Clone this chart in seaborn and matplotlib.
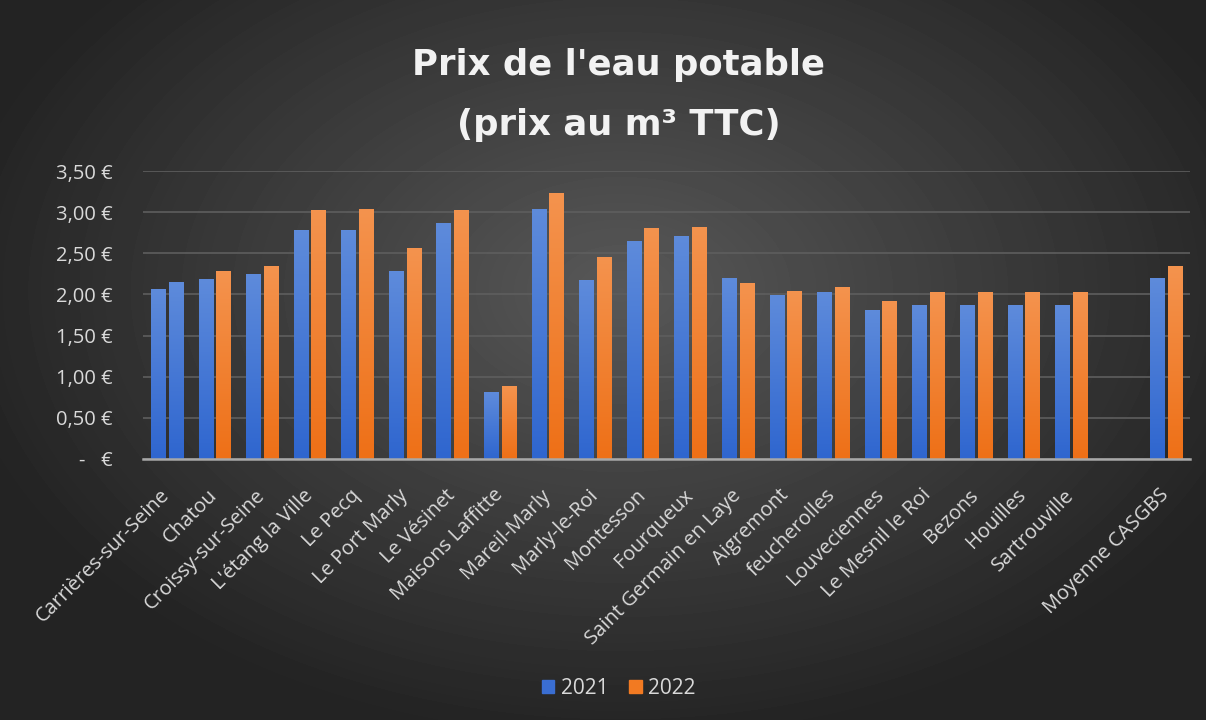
import numpy as np
import pandas as pd
import matplotlib
matplotlib.use("Agg")
import matplotlib.pyplot as plt
from matplotlib.ticker import FuncFormatter, MultipleLocator
from matplotlib.patches import Patch
from matplotlib.colors import LinearSegmentedColormap
import seaborn as sns

# Données (prix au m3 TTC)
communes = ["Carrières-sur-Seine", "Chatou", "Croissy-sur-Seine", "L'étang la Ville",
            "Le Pecq", "Le Port Marly", "Le Vésinet", "Maisons Laffitte", "Mareil-Marly",
            "Marly-le-Roi", "Montesson", "Fourqueux", "Saint Germain en Laye", "Aigremont",
            "feucherolles", "Louveciennes", "Le Mesnil le Roi", "Bezons", "Houilles",
            "Sartrouville", "", "Moyenne CASGBS"]
prix_2021 = [2.06, 2.19, 2.25, 2.78, 2.78, 2.28, 2.87, 0.81, 3.04, 2.17, 2.65, 2.71,
             2.20, 1.99, 2.03, 1.81, 1.87, 1.87, 1.87, 1.87, np.nan, 2.20]
prix_2022 = [2.155, 2.28, 2.345, 3.025, 3.04, 2.56, 3.025, 0.89, 3.23, 2.46, 2.81, 2.82,
             2.135, 2.04, 2.09, 1.92, 2.025, 2.025, 2.025, 2.025, np.nan, 2.34]
annees = ["2021", "2022"]

data = pd.DataFrame({
    "commune": communes * 2,
    "prix": prix_2021 + prix_2022,
    "annee": [annees[0]] * len(communes) + [annees[1]] * len(communes),
})

bleu = "#3A6ED2"
orange = "#F27A22"
texte = "#D9D9D9"

sns.set_style("white")
plt.rcParams["font.family"] = ["Open Sans", "DejaVu Sans"]

fig = plt.figure(figsize=(12.06, 7.2), dpi=100)

# fond dégradé radial sombre
fond = fig.add_axes([0, 0, 1, 1], zorder=-1)
yy, xx = np.mgrid[0:720, 0:1206]
d = np.sqrt(((xx - 620) / 720.0) ** 2 + ((yy - 290) / 480.0) ** 2)
gris = np.clip(0.345 - 0.22 * d, 0.14, 0.345)
fond.imshow(gris, cmap="gray", vmin=0, vmax=1, aspect="auto", interpolation="bilinear")
fond.axis("off")

ax = fig.add_axes([143 / 1206, 1 - 459 / 720, (1190 - 143) / 1206, 288 / 720])
ax.set_facecolor("none")

sns.barplot(data=data, x="commune", y="prix", hue="annee", order=communes,
            hue_order=annees, palette=[bleu, orange], saturation=1, width=0.74,
            gap=0.2, errorbar=None, linewidth=0, ax=ax, zorder=3)

# léger dégradé vertical sur les barres (plus clair en haut)
degrade = {bleu: LinearSegmentedColormap.from_list("b", ["#2F66CF", "#5E8BDB"]),
           orange: LinearSegmentedColormap.from_list("o", ["#EE7017", "#F4934E"])}
for barre, couleur in zip(ax.patches, [bleu] * len(communes) + [orange] * len(communes)):
    h = barre.get_height()
    if not np.isfinite(h) or h <= 0:
        continue
    x0 = barre.get_x()
    w = barre.get_width()
    grad = np.linspace(0, 1, 100).reshape(-1, 1)
    im = ax.imshow(grad, cmap=degrade[couleur], origin="lower", aspect="auto",
                   extent=[x0, x0 + w, 0, h], zorder=4)
    im.set_clip_path(barre)
ax.set_xlim(-0.5, len(communes) - 0.5)
ax.set_ylim(0, 3.5)

ax.yaxis.set_major_locator(MultipleLocator(0.5))
ax.yaxis.set_major_formatter(FuncFormatter(
    lambda v, p: "-   €" if v == 0 else f"{v:.2f} €".replace(".", ",")))
ax.grid(axis="y", color="#5E5E5E", linewidth=1.2, zorder=0)
ax.set_axisbelow(True)
for s in ["top", "right", "left"]:
    ax.spines[s].set_visible(False)
ax.spines["bottom"].set_color("#A8A8A8")
ax.spines["bottom"].set_linewidth(1.8)
ax.spines["bottom"].set_zorder(5)
ax.tick_params(axis="both", length=0, colors=texte, labelsize=14.5)
ax.tick_params(axis="y", pad=22)
ax.tick_params(axis="x", pad=24)
plt.setp(ax.get_xticklabels(), rotation=45, ha="right", va="center", rotation_mode="anchor")
ax.set_xlabel("")
ax.set_ylabel("")
ax.get_legend().remove()

fig.text(0.513, 0.868, "Prix de l'eau potable\n(prix au m³ TTC)", ha="center", va="center",
         color="#F2F2F2", fontsize=25.5, fontweight="bold", family=["DejaVu Sans"],
         linespacing=1.95)

poignees = [Patch(color=bleu, label="2021"), Patch(color=orange, label="2022")]
leg = fig.legend(handles=poignees, loc="center", bbox_to_anchor=(0.513, 0.044), ncol=2,
                 frameon=False, fontsize=15, handlelength=0.6, handleheight=0.6,
                 handletextpad=0.3, columnspacing=1.0)
for t in leg.get_texts():
    t.set_color(texte)

fig.savefig("out.png", dpi=100)
